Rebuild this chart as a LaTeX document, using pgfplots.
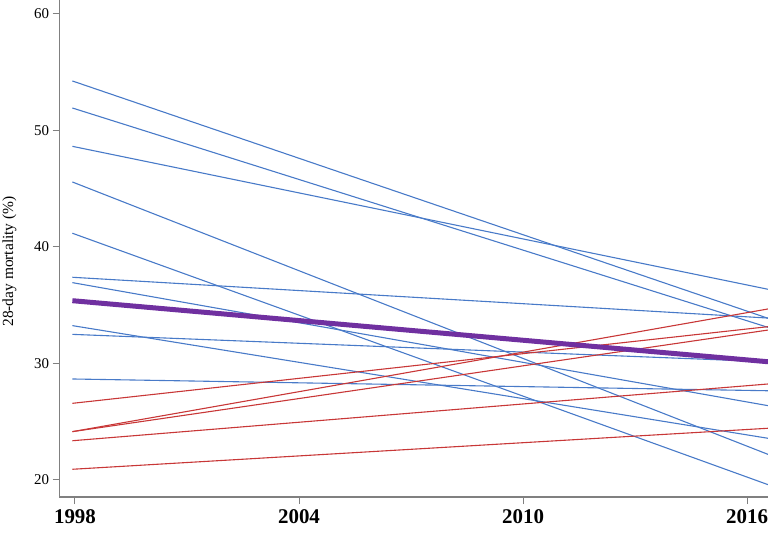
\documentclass[border=0pt]{standalone}
\usepackage{pgfplots}
\pgfplotsset{compat=1.18}
\usepackage{fontspec}
\setmainfont{Liberation Serif}
\definecolor{lblue}{RGB}{72,122,200}
\definecolor{lred}{RGB}{200,55,55}
\definecolor{lpurple}{RGB}{112,48,160}
\definecolor{axgray}{RGB}{128,128,128}
\begin{document}
\begin{tikzpicture}
\useasboundingbox (-59.5bp,-36bp) rectangle (708.5bp,497bp);
\begin{axis}[
  at={(0,0)}, anchor=south west,
  scale only axis, width=708.5bp, height=497bp,
  xmin=1997.585, xmax=2016.56, ymin=18.54, ymax=61.2,
  axis x line*=bottom, axis y line*=left,
  axis line style={axgray, line width=1.3bp, -},
  xtick={1998,2004,2010,2016}, ytick={20,30,40,50,60},
  tick style={axgray, line width=1bp},
  major tick length=7bp,
  tick align=outside,
  /pgf/number format/assume math mode=true,
  /pgf/number format/1000 sep={},
  xticklabel style={font=\fontsize{21}{24}\selectfont\bfseries, yshift=-2bp},
  yticklabel style={font=\fontsize{15}{17}\selectfont},
  ylabel={28-day mortality (\%)},
  ylabel style={font=\fontsize{15.5}{17}\selectfont, at={(axis description cs:0,0.5)}, anchor=center, xshift=-13bp, yshift=50bp},
  clip=false,
]
% blue lines
\addplot[lblue, line width=1.1bp] coordinates {(1997.93,54.25) (2016.56,33.88)};
\addplot[lblue, line width=1.1bp] coordinates {(1997.93,51.93) (2016.56,33.10)};
\addplot[lblue, line width=1.1bp] coordinates {(1997.93,48.64) (2016.56,36.37)};
\addplot[lblue, line width=1.1bp] coordinates {(1997.93,45.58) (2016.56,22.20)};
\addplot[lblue, line width=1.1bp] coordinates {(1997.93,41.18) (2016.56,19.60)};
\addplot[lblue, line width=1.1bp] coordinates {(1997.93,37.40) (2016.56,33.90)};
\addplot[lblue, line width=1.1bp] coordinates {(1997.93,36.94) (2016.56,26.38)};
\addplot[lblue, line width=1.1bp] coordinates {(1997.93,33.25) (2016.56,23.58)};
\addplot[lblue, line width=1.1bp] coordinates {(1997.93,32.50) (2016.56,30.15)};
\addplot[lblue, line width=1.1bp] coordinates {(1997.93,28.67) (2016.56,27.66)};
% red lines
\addplot[lred, line width=1.1bp] coordinates {(1997.93,26.58) (2016.56,33.16)};
\addplot[lred, line width=1.1bp] coordinates {(1997.93,24.15) (2016.56,34.68)};
\addplot[lred, line width=1.1bp] coordinates {(1997.93,24.15) (2016.56,32.87)};
\addplot[lred, line width=1.1bp] coordinates {(1997.93,23.37) (2016.56,28.24)};
\addplot[lred, line width=1.1bp] coordinates {(1997.93,20.92) (2016.56,24.44)};
% overall
\addplot[lpurple, line width=5bp] coordinates {(1997.93,35.39) (2016.56,30.15)};
\end{axis}
\end{tikzpicture}
\end{document}
